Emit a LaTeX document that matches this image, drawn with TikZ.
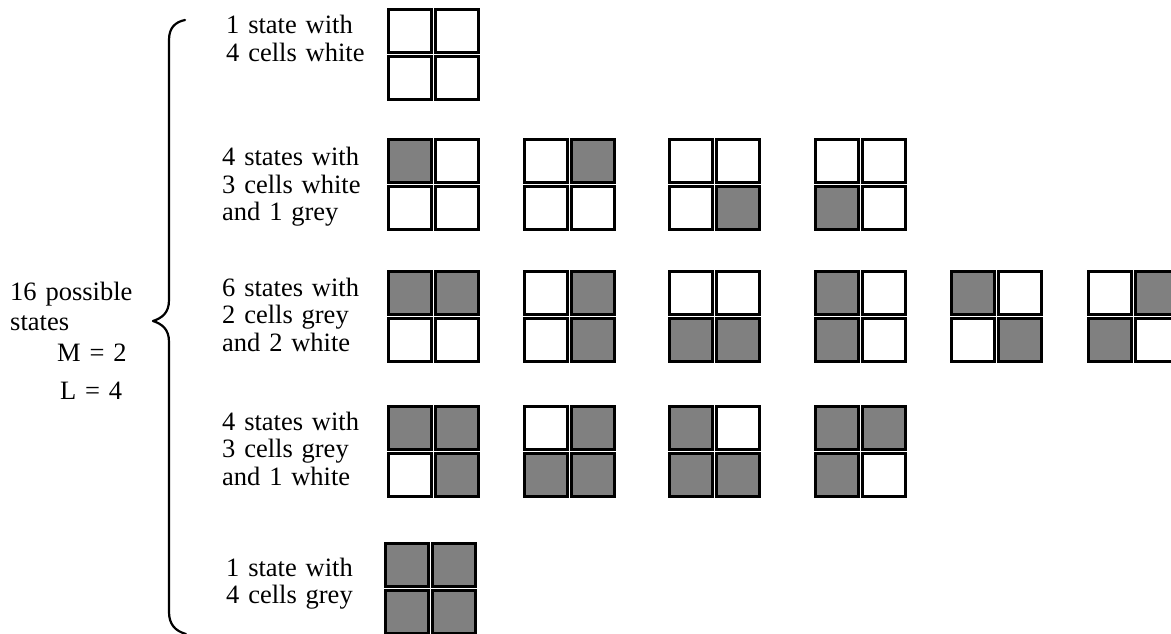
\documentclass[tikz,border=0pt]{standalone}
\usepackage{fontspec}
\setmainfont{Liberation Serif}
\definecolor{cellgrey}{HTML}{808080}
\tikzset{
  cw/.style={rectangle, draw=black, line width=2.8pt, fill=white, minimum size=43.2pt, inner sep=0pt},
  cg/.style={cw, fill=cellgrey},
  lbl/.style={inner sep=0pt, anchor=base west, align=left, text width=170pt,
    font=\fontsize{26.5}{27.5}\selectfont},
  brace/.style={draw=black, line width=2.2pt, line cap=round, line join=round}
}
\newcommand\stategrid[7]{%
  \node[#4] (#1a) at (#2+23.25,#3+23.25) {};
  \node[#5] (#1b) at (#2+69.75,#3+23.25) {};
  \node[#6] (#1c) at (#2+23.25,#3+69.75) {};
  \node[#7] (#1d) at (#2+69.75,#3+69.75) {};
}
\begin{document}
\begin{tikzpicture}[x=1pt,y=-1pt]
\useasboundingbox (0,0) rectangle (1171,634);
% brace
\draw[brace] (185,20) .. controls (175,22) and (169,28) .. (169,40) -- (169,300)
  .. controls (169,313) and (162,318) .. (153,321)
  .. controls (162,324) and (169,329) .. (169,342) -- (169,612)
  .. controls (169,624) and (175,631) .. (186,634);
% left labels
\node[lbl] (total) at (10,300) {16 possible};
\node[lbl] (total2) at (10,330) {states};
\node[lbl] (mval) at (57,361) {M = 2};
\node[lbl] (lval) at (60,399) {L = 4};
% row labels
\node[lbl] (t1) at (226,34) {1 state with\\4 cells white};
\node[lbl] (t2) at (222,165.5) {4 states with\\3 cells white\\and 1 grey};
\node[lbl] (t3) at (222,296) {6 states with\\2 cells grey\\and 2 white};
\node[lbl] (t4) at (222,430) {4 states with\\3 cells grey\\and 1 white};
\node[lbl] (t5) at (226,576) {1 state with\\4 cells grey};
% row 1
\stategrid{ga}{387}{8}{cw}{cw}{cw}{cw}
% row 2
\stategrid{gba}{387}{138}{cg}{cw}{cw}{cw}
\stategrid{gbb}{523}{138}{cw}{cg}{cw}{cw}
\stategrid{gbc}{668}{138}{cw}{cw}{cw}{cg}
\stategrid{gbd}{814}{138}{cw}{cw}{cg}{cw}
% row 3
\stategrid{gca}{387}{270}{cg}{cg}{cw}{cw}
\stategrid{gcb}{523}{270}{cw}{cg}{cw}{cg}
\stategrid{gcc}{668}{270}{cw}{cw}{cg}{cg}
\stategrid{gcd}{814}{270}{cg}{cw}{cg}{cw}
\stategrid{gce}{950}{270}{cg}{cw}{cw}{cg}
\stategrid{gcf}{1087}{270}{cw}{cg}{cg}{cw}
% row 4
\stategrid{gda}{387}{405}{cg}{cg}{cw}{cg}
\stategrid{gdb}{523}{405}{cw}{cg}{cg}{cg}
\stategrid{gdc}{668}{405}{cg}{cw}{cg}{cg}
\stategrid{gdd}{814}{405}{cg}{cg}{cg}{cw}
% row 5
\stategrid{ge}{384}{542}{cg}{cg}{cg}{cg}
\end{tikzpicture}
\end{document}
